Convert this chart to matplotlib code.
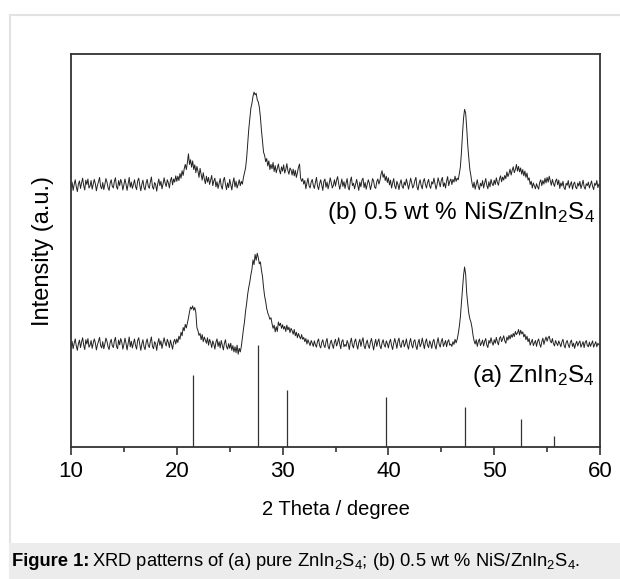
import numpy as np
import matplotlib
matplotlib.use("Agg")
import matplotlib.pyplot as plt
from matplotlib.patches import Rectangle

plt.rcParams['font.family'] = ['Liberation Sans', 'DejaVu Sans']
plt.rcParams['mathtext.fontset'] = 'custom'
plt.rcParams['mathtext.rm'] = 'Liberation Sans'
plt.rcParams['mathtext.it'] = 'Liberation Sans:italic'

# 2 theta grid, 0.1 degree steps (10.0 ... 60.0)
two_theta = np.arange(10.0, 60.001, 0.1)

# (b) 0.5 wt % NiS/ZnIn2S4, one row per degree
counts_b = [
    66.1, 67.4, 65.3, 66.8, 68.0, 66.2, 65.0, 66.9, 67.7, 65.8,
    67.2, 68.4, 66.5, 65.4, 67.9, 66.8, 68.2, 65.9, 66.4, 67.8,
    65.6, 66.9, 68.1, 67.0, 65.2, 66.6, 67.5, 68.6, 66.3, 65.7,
    67.3, 65.5, 66.8, 68.3, 67.4, 66.0, 65.3, 67.1, 68.0, 66.4,
    65.9, 67.6, 68.5, 66.2, 65.6, 67.8, 66.5, 68.1, 67.2, 65.4,
    66.7, 68.2, 66.9, 65.3, 67.0, 68.6, 66.1, 67.4, 65.8, 66.8,
    68.0, 66.3, 65.5, 67.7, 68.4, 66.6, 65.2, 66.9, 67.9, 66.0,
    65.4, 67.2, 68.1, 66.4, 65.8, 67.5, 68.7, 66.2, 65.6, 67.3,
    66.8, 65.1, 67.0, 68.2, 66.5, 67.6, 65.7, 66.9, 68.5, 67.1,
    66.3, 68.0, 67.2, 65.9, 67.8, 68.6, 66.7, 68.2, 67.4, 69.0,
    67.6, 68.9, 67.8, 69.6, 68.4, 70.3, 69.1, 70.8, 71.9, 70.6,
    72.4, 74.6, 71.9, 73.1, 71.2, 72.8, 70.6, 71.8, 69.8, 71.4,
    70.2, 68.6, 70.9, 69.4, 67.9, 69.8, 68.2, 67.0, 68.9, 67.4,
    68.6, 66.8, 67.9, 69.1, 66.5, 67.7, 68.4, 66.2, 67.5, 65.8,
    67.0, 68.3, 66.4, 65.6, 67.8, 68.6, 66.9, 65.5, 67.2, 66.0,
    68.1, 66.7, 65.4, 67.3, 68.5, 66.2, 67.6, 65.9, 66.8, 68.0,
    66.5, 67.6, 66.9, 68.6, 69.8, 71.0, 73.5, 77.0, 80.8, 83.6,
    86.2, 87.4, 89.2, 90.3, 89.6, 90.0, 88.4, 87.8, 86.5, 84.0,
    80.6, 77.8, 75.0, 74.2, 72.6, 73.4, 71.5, 72.8, 70.6, 71.9,
    70.8, 72.4, 70.1, 71.6, 69.8, 70.9, 72.0, 70.4, 69.5, 71.3,
    70.2, 71.8, 69.7, 70.6, 72.1, 70.3, 69.4, 71.0, 70.5, 69.2,
    70.7, 69.0, 70.4, 68.6, 69.8, 71.2, 72.0, 68.4, 67.6, 68.3,
    66.9, 67.8, 65.7, 67.2, 68.4, 66.5, 65.9, 67.4, 68.1, 66.6,
    65.8, 67.3, 68.6, 66.4, 65.5, 67.0, 68.0, 66.7, 65.3, 67.6,
    68.2, 66.1, 67.4, 65.7, 66.9, 68.5, 67.3, 65.9, 66.6, 68.0,
    66.4, 67.9, 68.8, 67.0, 65.6, 66.8, 68.2, 66.3, 67.5, 65.8,
    67.2, 68.3, 66.0, 65.4, 67.6, 68.7, 66.5, 67.1, 65.7, 66.9,
    68.1, 66.6, 65.3, 67.4, 66.2, 67.9, 68.4, 66.0, 67.3, 65.6,
    66.8, 68.0, 67.1, 65.5, 66.6, 68.3, 67.7, 66.1, 65.8, 67.5,
    68.2, 66.9, 67.8, 69.4, 70.3, 68.6, 69.5, 67.8, 68.9, 67.3,
    68.5, 66.7, 67.9, 65.9, 67.2, 68.3, 66.4, 65.7, 67.6, 66.8,
    65.5, 67.1, 68.0, 66.3, 65.8, 67.4, 66.6, 68.2, 67.0, 65.6,
    66.9, 68.4, 67.3, 65.9, 66.5, 67.8, 68.6, 66.2, 65.4, 67.1,
    68.0, 66.5, 65.7, 67.6, 68.3, 66.8, 65.9, 67.3, 68.1, 66.4,
    65.8, 67.5, 66.9, 68.4, 67.1, 65.6, 66.7, 68.5, 67.4, 66.2,
    67.9, 68.6, 66.3, 67.2, 65.9, 67.7, 68.8, 66.5, 67.6, 68.2,
    66.8, 68.1, 67.4, 68.9, 67.6, 68.4, 68.0, 69.5, 71.2, 74.8,
    79.5, 83.6, 85.9, 85.0, 81.2, 76.8, 73.5, 70.6, 69.0, 67.2,
    66.0, 67.4, 65.6, 66.8, 68.0, 66.3, 65.5, 67.1, 66.4, 67.8,
    65.9, 67.2, 68.3, 66.6, 65.7, 67.5, 66.2, 68.1, 67.0, 66.5,
    67.9, 66.8, 68.5, 67.3, 66.6, 68.2, 69.0, 67.5, 68.7, 67.9,
    69.1, 68.3, 70.0, 68.8, 69.6, 70.7, 69.2, 70.4, 71.3, 69.8,
    70.6, 71.9, 70.2, 71.4, 70.0, 71.0, 69.4, 70.6, 69.0, 70.2,
    68.6, 69.7, 67.9, 68.5, 66.8, 67.6, 65.9, 67.2, 66.4, 65.7,
    67.0, 66.2, 65.6, 67.3, 68.0, 66.5, 67.8, 66.9, 68.4, 67.2,
    68.6, 67.4, 68.9, 67.8, 66.6, 68.1, 67.0, 66.3, 67.7, 68.2,
    66.7, 67.9, 65.8, 67.2, 66.4, 67.6, 66.0, 65.5, 67.1, 66.6,
    67.8, 65.9, 66.8, 67.5, 65.6, 66.9, 67.4, 66.1, 65.7, 67.2,
    66.4, 67.6, 65.8, 66.7, 67.9, 66.2, 65.6, 67.0, 66.5, 67.4,
    65.9, 66.8, 67.7, 66.3, 65.5, 67.1, 66.6, 67.8, 66.0, 66.9,
    66.5,
]

# (a) pure ZnIn2S4
counts_a = [
    25.4, 26.9, 25.0, 26.4, 27.5, 25.7, 24.6, 26.3, 27.2, 25.3,
    26.7, 27.8, 25.9, 24.8, 27.3, 26.2, 27.6, 25.4, 25.9, 27.1,
    25.1, 26.4, 27.5, 26.5, 24.7, 26.0, 27.0, 27.9, 25.8, 25.2,
    26.8, 25.0, 26.2, 27.7, 26.9, 25.5, 24.8, 26.6, 27.4, 25.8,
    25.3, 27.0, 27.9, 25.6, 25.0, 27.2, 26.0, 27.6, 26.7, 24.9,
    26.1, 27.7, 26.4, 24.7, 26.4, 28.0, 25.5, 26.9, 25.2, 26.3,
    27.5, 25.8, 24.9, 27.1, 27.8, 26.1, 24.6, 26.3, 27.3, 25.5,
    24.8, 26.6, 27.5, 25.9, 25.3, 26.9, 28.0, 25.6, 25.0, 26.8,
    26.3, 24.6, 26.5, 27.6, 25.9, 27.0, 25.1, 26.4, 27.8, 26.5,
    25.7, 27.4, 26.6, 25.3, 27.2, 26.0, 24.9, 26.7, 27.4, 26.2,
    27.5, 26.6, 28.2, 27.4, 29.2, 28.3, 30.4, 29.6, 31.2, 30.3,
    31.6, 32.8, 34.4, 35.6, 35.1, 35.9, 34.8, 35.5, 34.2, 30.4,
    29.6, 28.4, 28.9, 27.3, 28.6, 26.8, 28.0, 27.2, 26.4, 27.8,
    25.9, 27.4, 26.6, 25.3, 27.0, 26.2, 24.9, 26.7, 27.5, 25.6,
    26.8, 25.2, 27.1, 25.9, 24.7, 26.4, 27.3, 25.5, 24.9, 26.3,
    25.1, 26.4, 24.6, 25.8, 24.2, 25.5, 24.0, 25.9, 23.6, 25.1,
    24.2, 25.6, 27.8, 30.0, 31.9, 34.6, 36.5, 38.9, 40.6, 42.0,
    43.8, 45.2, 47.6, 46.4, 49.0, 47.5, 49.3, 48.2, 46.6, 47.1,
    45.0, 43.4, 40.6, 38.4, 37.0, 35.2, 34.1, 33.4, 32.5, 32.9,
    31.4, 30.2, 31.0, 29.3, 30.6, 29.4, 31.8, 30.9, 31.5, 30.2,
    31.1, 30.0, 30.7, 29.4, 31.0, 29.8, 30.5, 29.1, 30.2, 29.6,
    28.7, 29.9, 28.3, 29.2, 27.8, 28.9, 28.1, 27.5, 28.6, 27.4,
    27.9, 26.8, 27.6, 26.2, 27.3, 26.5, 25.8, 27.1, 26.4, 25.6,
    27.0, 26.0, 25.4, 26.9, 27.5, 25.8, 25.2, 26.6, 27.3, 25.9,
    25.3, 26.8, 27.6, 25.6, 24.9, 26.4, 27.2, 26.0, 25.1, 26.7,
    27.4, 25.7, 26.5, 27.8, 26.2, 25.0, 26.9, 27.3, 25.5, 26.1,
    25.6, 27.1, 26.3, 24.8, 26.6, 27.7, 25.9, 25.2, 26.8, 27.5,
    26.0, 24.9, 26.6, 27.4, 25.6, 26.9, 27.8, 25.7, 25.0, 26.4,
    27.2, 25.8, 25.1, 26.7, 27.6, 26.1, 24.7, 26.3, 27.4, 25.6,
    26.8, 27.5, 25.7, 25.0, 26.5, 27.3, 26.0, 25.4, 27.0, 26.3,
    25.2, 26.7, 27.4, 25.8, 24.8, 26.4, 27.6, 26.5, 25.1, 26.9,
    27.7, 25.9, 25.3, 26.8, 27.2, 25.5, 26.3, 27.5, 25.8, 24.9,
    26.6, 27.6, 26.0, 25.2, 26.9, 27.3, 25.7, 24.8, 26.5, 27.4,
    25.5, 26.2, 27.7, 26.4, 25.0, 26.7, 27.5, 25.9, 25.3, 27.0,
    26.3, 25.1, 26.8, 27.4, 25.8, 24.9, 26.6, 27.8, 26.1, 25.4,
    26.9, 27.6, 25.6, 26.3, 27.1, 25.5, 26.8, 27.3, 25.9, 26.2,
    25.6, 26.8, 26.1, 27.4, 26.5, 27.4, 28.8, 30.6, 33.0, 36.6,
    40.2, 43.6, 45.8, 44.0, 39.2, 36.4, 34.0, 32.6, 31.8, 30.4,
    28.4, 27.0, 26.2, 27.3, 25.6, 26.8, 27.5, 25.8, 26.4, 27.2,
    25.7, 26.9, 27.6, 25.9, 25.3, 27.1, 26.4, 27.8, 26.6, 25.9,
    27.3, 26.4, 27.9, 26.7, 26.0, 27.6, 28.1, 26.8, 27.5, 28.3,
    27.0, 26.4, 28.0, 27.2, 28.4, 27.5, 28.6, 27.9, 28.9, 28.1,
    29.4, 28.6, 29.0, 29.9, 28.5, 29.7, 28.8, 29.3, 28.0, 28.7,
    27.3, 28.2, 26.8, 27.6, 25.9, 26.7, 27.4, 25.8, 26.5, 27.1,
    25.6, 26.9, 27.5, 26.2, 25.4, 26.8, 27.7, 26.1, 27.2, 28.0,
    26.9, 27.8, 28.2, 27.0, 26.5, 27.6, 26.3, 25.7, 27.1, 26.4,
    25.8, 27.0, 26.3, 25.5, 26.8, 27.4, 25.9, 25.2, 26.6, 27.1,
    26.0, 25.3, 26.7, 27.2, 25.6, 26.4, 25.1, 26.2, 26.9, 25.7,
    26.5, 27.0, 25.4, 26.1, 26.8, 25.3, 26.6, 27.1, 25.8, 25.5,
    26.7, 25.6, 26.3, 27.0, 25.4, 26.1, 26.8, 25.5, 26.4, 26.0,
    25.8,
]

# reference pattern (sticks)
ref_pos = [21.55, 27.7, 30.45, 39.8, 47.2, 52.5, 55.65]
ref_int = [18.3, 26.0, 14.4, 12.7, 10.3, 7.2, 2.7]

fig = plt.figure(figsize=(6.2, 5.79), dpi=100)
W, H = 620, 579

# page frame + caption band
fig.patches.append(Rectangle((10 / W, 0), 1.0, 1 - 15 / H, transform=fig.transFigure,
                             fill=False, edgecolor='#e2e2e2', lw=1.5, zorder=0))
fig.patches.append(Rectangle((9 / W, 0), 1.0, 36 / H, transform=fig.transFigure,
                             facecolor='#ececec', edgecolor='none', zorder=1))

ax = fig.add_axes([71 / W, 1 - 447 / H, (600 - 71) / W, (447 - 54) / H])
ax.plot(two_theta, counts_b, color='#222222', lw=0.7)
ax.plot(two_theta, counts_a, color='#222222', lw=0.7)
ax.vlines(ref_pos, 0, ref_int, color='#333333', lw=0.9)

ax.set_xlim(10, 60)
ax.set_ylim(0, 100)
ax.set_xticks([10, 20, 30, 40, 50, 60])
ax.set_xticks([15, 25, 35, 45, 55], minor=True)
ax.set_yticks([])
ax.tick_params(axis='x', which='major', direction='out', length=6, width=1.2,
               labelsize=16, pad=4, color='#333333')
ax.tick_params(axis='x', which='minor', direction='out', length=3.5, width=1.2,
               color='#333333')
for s in ax.spines.values():
    s.set_linewidth(1.3)
    s.set_color('#333333')

ax.set_xlabel('2 Theta / degree', fontsize=14.5, labelpad=13)
ax.set_ylabel('Intensity (a.u.)', fontsize=17, labelpad=12)

ax.text(0.99, 0.595, '(b) 0.5 wt % NiS/ZnIn$_2$S$_4$', transform=ax.transAxes,
        ha='right', va='center', fontsize=17.5)
ax.text(0.99, 0.18, '(a) ZnIn$_2$S$_4$', transform=ax.transAxes,
        ha='right', va='center', fontsize=17.5)

# caption
t1 = fig.text(12 / W, 18 / H, 'Figure 1:', fontsize=13.2, fontweight='bold',
              va='center', ha='left')
fig.canvas.draw()
bb = t1.get_window_extent()
fig.text((bb.x1 + 3) / W, 18 / H,
         'XRD patterns of (a) pure ZnIn$_2$S$_4$; (b) 0.5 wt % NiS/ZnIn$_2$S$_4$.',
         fontsize=13.2, va='center', ha='left')

fig.savefig('out.png', dpi=100)
